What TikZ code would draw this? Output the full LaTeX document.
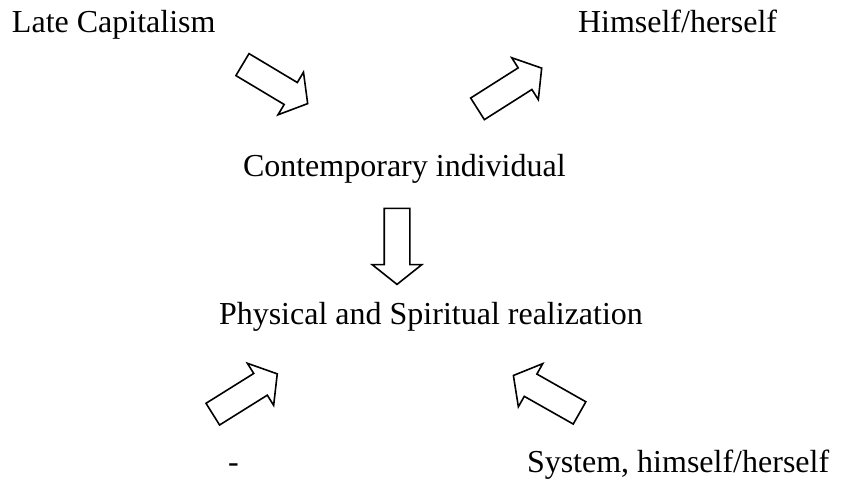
\documentclass[tikz,border=0pt]{standalone}
\usepackage{fontspec}
\setmainfont{Liberation Serif}
\usetikzlibrary{shapes.arrows}
\begin{document}
\begin{tikzpicture}[x=1pt,y=-1pt,
  label/.style={anchor=base west, inner sep=0pt, outer sep=0pt,
    font=\fontsize{32}{38}\selectfont},
  blockarrow/.style={single arrow, draw=black, fill=white, line width=1.6pt,
    line join=miter, minimum height=76pt,
    single arrow head extend=12pt, single arrow tip angle=103,
    inner xsep=0pt, inner ysep=12pt, outer sep=0pt}]
  \useasboundingbox (0,0) rectangle (851,481);
  % text labels
  \node[label] (late)   at (12,32.5)  {Late Capitalism};
  \node[label] (self)   at (578,32.5) {Himself/herself};
  \node[label] (indiv)  at (243,177)  {Contemporary individual};
  \node[label] (real)   at (219,324)  {Physical and Spiritual realization};
  \node[label] (dash)   at (228,472)  {-};
  \node[label] (system) at (527,472)  {System, himself/herself};
  % block arrows
  \node[blockarrow, rotate=-30.9] (a1) at (270.7,81.5)  {};
  \node[blockarrow, rotate=32.4]  (a2) at (505.3,91.2)  {};
  \node[blockarrow, rotate=-90]   (a3) at (397,241.3)   {};
  \node[blockarrow, rotate=32]    (a4) at (240.7,396.7) {};
  \node[blockarrow, rotate=150.5] (a5) at (550.9,396.7) {};
\end{tikzpicture}
\end{document}
